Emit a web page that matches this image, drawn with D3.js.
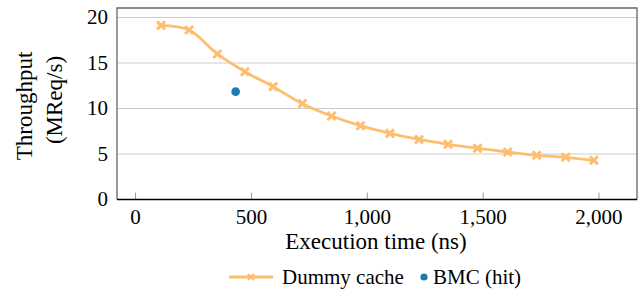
<!DOCTYPE html>
<html><head><meta charset="utf-8">
<script src="https://cdn.jsdelivr.net/npm/d3@7"></script>
</head><body style="margin:0">
<svg id="c" width="643" height="289" style="display:block"></svg>
<script>
const dummyX = [110, 231, 353, 472, 594, 720, 846, 971, 1098, 1223, 1349, 1476, 1606, 1731, 1856, 1978];
const dummyY = [19.14, 18.63, 15.99, 14.04, 12.4, 10.53, 9.18, 8.11, 7.27, 6.6, 6.07, 5.63, 5.22, 4.86, 4.64, 4.31];
const bmcX = [432];
const bmcY = [11.85];
const xTicks = [0, 500, 1000, 1500, 2000];
const yTicks = [0, 5, 10, 15, 20];
const seriesNames = ["Dummy cache", "BMC (hit)"];

const orange = "#fdbf6f", blue = "#1f78b4";
const svg = d3.select("#c");
const L = 117, R = 637, T = 8, B = 199.5;
const x = d3.scaleLinear().domain([-80, 2164]).range([L, R]);
const y = d3.scaleLinear().domain([0, 20]).range([B, 17.5]);

function txt(sel) { return sel.style("font-family", "'Liberation Serif', monospace", "important"); }

// grid
svg.append("g").selectAll("line").data(yTicks.filter(d => d > 0)).join("line")
  .attr("x1", L).attr("x2", R).attr("y1", d => y(d)).attr("y2", d => y(d))
  .attr("stroke", "#cccccc").attr("stroke-width", 1);

// x ticks (inward)
svg.append("g").selectAll("line").data(xTicks).join("line")
  .attr("x1", d => x(d)).attr("x2", d => x(d)).attr("y1", B).attr("y2", B - 7)
  .attr("stroke", "#999").attr("stroke-width", 1);

// frame
svg.append("path").attr("d", `M${L},${B}V${T}H${R}V${B}`).attr("fill", "none")
  .attr("stroke", "#666").attr("stroke-width", 1.3);
svg.append("line").attr("x1", L).attr("x2", R).attr("y1", B).attr("y2", B)
  .attr("stroke", "#000").attr("stroke-width", 1.3);

// tick labels
txt(svg.append("g").selectAll("text").data(xTicks).join("text")
  .attr("x", d => x(d)).attr("y", 224).attr("text-anchor", "middle")
  .attr("font-size", 21)
  .text(d => d3.format(",")(d)));
txt(svg.append("g").selectAll("text").data(yTicks).join("text")
  .attr("x", 108).attr("y", d => y(d)).attr("dy", "0.33em").attr("text-anchor", "end")
  .attr("font-size", 21)
  .text(d => d));

// axis titles
txt(svg.append("text").attr("x", 376).attr("y", 249).attr("text-anchor", "middle")
  .attr("font-size", 23).text("Execution time (ns)"));
txt(svg.append("text").attr("transform", "translate(32,106) rotate(-90)").attr("text-anchor", "middle")
  .attr("font-size", 23).text("Throughput"));
txt(svg.append("text").attr("transform", "translate(62,100) rotate(-90)").attr("text-anchor", "middle")
  .attr("font-size", 23).text("(MReq/s)"));

// line
const pts = dummyX.map((d, i) => [d, dummyY[i]]);
const line = d3.line().x(d => x(d[0])).y(d => y(d[1])).curve(d3.curveCatmullRom.alpha(0.5));
svg.append("path").datum(pts).attr("d", line).attr("fill", "none")
  .attr("stroke", orange).attr("stroke-width", 2.8).attr("stroke-linejoin", "round");

function cross(g, cx, cy, s, w) {
  g.append("path").attr("d", `M${cx - s},${cy - s}L${cx + s},${cy + s}M${cx - s},${cy + s}L${cx + s},${cy - s}`)
    .attr("stroke", orange).attr("stroke-width", w).attr("fill", "none");
}
const mg = svg.append("g");
pts.forEach(p => cross(mg, x(p[0]), y(p[1]), 4, 3));

svg.append("g").selectAll("circle").data(bmcX.map((d, i) => [d, bmcY[i]])).join("circle")
  .attr("cx", d => x(d[0])).attr("cy", d => y(d[1])).attr("r", 4.3).attr("fill", blue);

// legend
const ly = 277;
svg.append("line").attr("x1", 229).attr("x2", 273).attr("y1", ly).attr("y2", ly)
  .attr("stroke", orange).attr("stroke-width", 2.8);
cross(svg, 251, ly, 3, 2.4);
txt(svg.append("text").attr("x", 282).attr("y", ly).attr("dy", "0.33em")
  .attr("font-size", 21).text(seriesNames[0]));
svg.append("circle").attr("cx", 424).attr("cy", ly).attr("r", 3.6).attr("fill", blue);
txt(svg.append("text").attr("x", 433).attr("y", ly).attr("dy", "0.33em")
  .attr("font-size", 21).text(seriesNames[1]));
</script>
</body></html>
